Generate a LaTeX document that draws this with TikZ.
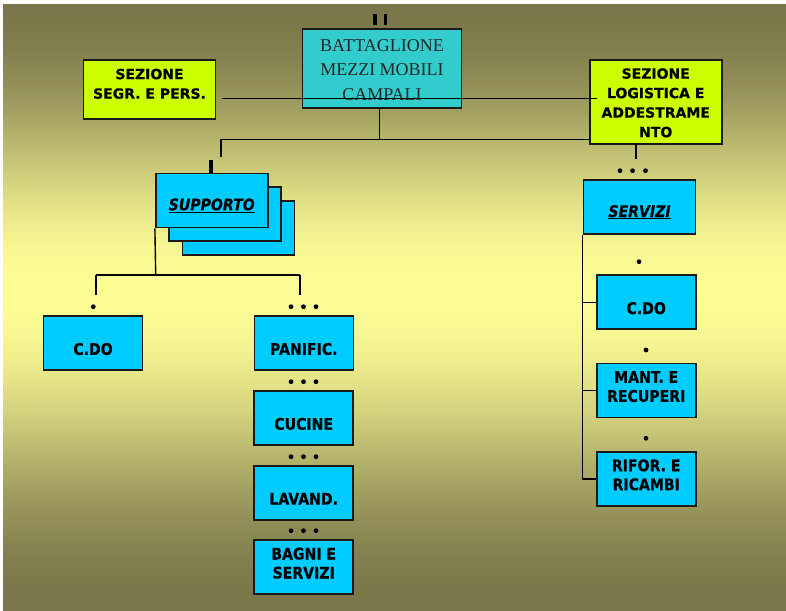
\documentclass[tikz,border=0pt]{standalone}
\usepackage{fontspec}
\setmainfont{Liberation Serif}
\setsansfont{DejaVu Sans}[BoldFeatures={FakeBold=0.6}]
\newfontfamily\boxfont{DejaVu Sans}[FakeStretch=0.88,
  BoldFeatures={FakeBold=0.6}, BoldItalicFeatures={FakeBold=0.6}]

\definecolor{olivetop}{RGB}{122,120,74}
\definecolor{paleyellow}{RGB}{253,253,150}
\definecolor{unitcyan}{RGB}{0,204,255}
\definecolor{hqteal}{RGB}{51,204,204}
\definecolor{sectlime}{RGB}{204,255,0}

% shift a label inside its box without changing the box size
\newcommand\lowerby[2]{\raisebox{-#1}[\height][\depth]{#2}}
% several centred lines, shifted up by #1
\newcommand\boxlines[2]{\raisebox{#1}[\height][\depth]{\begin{tabular}{@{}c@{}}#2\end{tabular}}}

\begin{document}
\begin{tikzpicture}[x=1bp,y=-1bp,
  conn/.style={draw=black, line width=1.4bp},
  stub/.style={draw=black, line width=#1},
  dotmark/.style={fill=black},
  unitbox/.style={draw=black!90, line width=1.6bp, fill=unitcyan,
    minimum width=99bp, minimum height=54bp, inner sep=0pt,
    font=\boxfont\bfseries\fontsize{16bp}{19bp}\selectfont},
  widebox/.style={unitbox, minimum width=112bp},
  sectbox/.style={draw=black!90, line width=1.6bp, fill=sectlime,
    minimum width=132bp, inner sep=0pt,
    font=\sffamily\bfseries\fontsize{14bp}{19.5bp}\selectfont},
  hqbox/.style={draw=black!90, line width=1.8bp, fill=hqteal,
    minimum width=159bp, minimum height=79bp, inner sep=0pt,
    text=black!85, font=\rmfamily\fontsize{18bp}{24.3bp}\selectfont}
]
\useasboundingbox (0,0) rectangle (786,611);
\fill[white] (0,0) rectangle (786,611);
% background: olive at top and bottom, a broad pale yellow band in between
\foreach \i in {0,...,201}{
  \pgfmathsetmacro\tt{\i/201}
  \pgfmathsetmacro\ang{\tt<0.47 ? 90*\tt/0.47 : 90*(1-\tt)/0.53}
  \pgfmathsetmacro\mixp{100*sin(\ang)^2}
  \fill[paleyellow!\mixp!olivetop] (3,4+3*\i) rectangle (786,8+3*\i);
}

% headquarters and staff sections
\node[hqbox] (hq) at (382,68.6) {\boxlines{-2.5bp}{BATTAGLIONE\\MEZZI MOBILI\\CAMPALI}};
\node[sectbox, minimum height=59bp] (segr) at (149.5,89.5)
  {\boxlines{4.5bp}{SEZIONE\\SEGR. E PERS.}};
\node[sectbox, minimum height=84bp] (logi) at (655.7,102)
  {\boxlines{-2bp}{SEZIONE\\LOGISTICA E\\ADDESTRAME\\NTO}};

% support unit (stacked boxes)
\node[widebox] (supC) at (238.3,227.9) {};
\node[widebox] (supB) at (224.9,213.9) {};
\node[widebox] (supA) at (211.7,200.5)
  {\lowerby{5bp}{\itshape\underline{SUPPORTO}}};

\node[unitbox] (cdoL)   at (93,343)     {\lowerby{6bp}{C.DO}};
\node[unitbox] (panif)  at (303.8,343)  {\lowerby{6bp}{PANIFIC.}};
\node[unitbox] (cucine) at (303.7,417.9){\lowerby{6bp}{CUCINE}};
\node[unitbox] (lavand) at (303.7,492.7){\lowerby{6bp}{LAVAND.}};
\node[unitbox] (bagni)  at (303.7,567.2){\boxlines{2bp}{BAGNI E\\SERVIZI}};

% services unit
\node[widebox] (servizi) at (639.5,207.2)
  {\lowerby{5bp}{\itshape\underline{SERVIZI}}};
\node[unitbox] (cdoR)  at (646.2,302.2) {\lowerby{6bp}{C.DO}};
\node[unitbox] (mant)  at (646.2,390.5) {\boxlines{2bp}{MANT. E\\RECUPERI}};
\node[unitbox] (rifor) at (646.2,478.9) {\boxlines{2bp}{RIFOR. E\\RICAMBI}};

% connector end points
\coordinate (hlineW) at (222,98.5);
\coordinate (hlineE) at (597,98.5);
\coordinate (busT) at (379.3,139.3);
\coordinate (busW) at (221,139.3);
\coordinate (busWdrop) at (221,157);
\coordinate (supStub) at (211,160);
\coordinate (logiStub) at (635.7,144);
\coordinate (supBus) at (155.7,275);
\coordinate (supBusW) at (96,275);
\coordinate (supBusE) at (300,275);
\coordinate (topStubA) at (375.3,14);
\coordinate (topStubB) at (385.8,14);

% staff line across the headquarters box
\draw[conn] (hlineW) -- (hlineE);
% headquarters down to the unit bus
\draw[conn] (hq.south -| busT) -- (busT);
\draw[conn] (busW) -- (busW -| logi.west);
\draw[conn] (busW) -- (busWdrop);
\draw[stub=4bp] (supStub) -- (supStub |- supA.north);
\draw[stub=2bp] (logiStub) -- ++(0,15.5);
\draw[stub=4bp] (topStubA) -- ++(0,11);
\draw[stub=3bp] (topStubB) -- ++(0,11);

% support branches
\draw[conn] (supA.south west) -- (supBus);
\draw[conn] (supBusW) -- (supBusE);
\draw[conn] (supBusW) -- ++(0,20);
\draw[stub=2.5bp] (supBusE) -- ++(0,20);

% services branches
\draw[conn] (servizi.south west) -- (servizi.south west |- rifor.west) -- (rifor.west);
\draw[conn] (servizi.south west |- cdoR.west) -- (cdoR.west);
\draw[conn] (servizi.south west |- mant.west) -- (mant.west);

% bullet marks above boxes
\foreach \p in {(620,170.7),(632.5,170.7),(645.5,170.7),
                (93.3,306.7),(639,261.7),(646,350),(646,438.3)}
  \fill[dotmark] \p circle (2.4bp);
\foreach \yy in {306.7,381.7,456.7,530.7}
  \foreach \xx in {291,303.5,316}
    \fill[dotmark] (\xx,\yy) circle (2.4bp);
\end{tikzpicture}
\end{document}
